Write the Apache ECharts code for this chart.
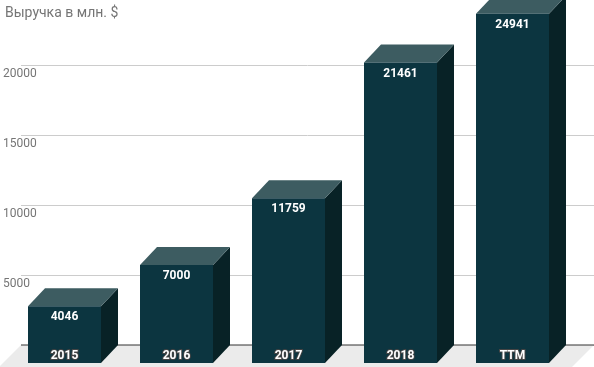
<!DOCTYPE html>
<html>
<head>
<meta charset="utf-8">
<script src="https://cdn.jsdelivr.net/npm/echarts@6/dist/echarts.min.js"></script>
<style>html,body{margin:0;padding:0;background:#fff;}#c{width:594px;height:367px;}</style>
</head>
<body>
<div id="c"></div>
<script>
var titleText = 'Выручка в млн. $';
var categories = ['2015', '2016', '2017', '2018', 'TTM'];
var revenue = [4046, 7000, 11759, 21461, 24941];
var yTicks = [0, 5000, 10000, 15000, 20000];
var yMax = 24000;

var FONT = 'Roboto, "Noto Sans", sans-serif';
var DX = 17, DY = 18, BAR_W = 73;
var C_FRONT = '#0c3540', C_TOP = '#3d5c61', C_SIDE = '#082226';

var chart = echarts.init(document.getElementById('c'), null, {renderer: 'canvas'});

function renderFloor(params, api) {
  var cs = params.coordSys;
  var y0 = api.coord([0, 0])[1];
  var x0 = cs.x, x1 = cs.x + cs.width;
  var ext = 22;
  return {
    type: 'group',
    children: [
      {type: 'polygon', shape: {points: [[x0, y0], [x1, y0], [x1 - ext, y0 + ext], [x0 - ext, y0 + ext]]},
       style: {fill: '#ebebeb'}},
      {type: 'line', shape: {x1: x0, y1: y0, x2: x1, y2: y0}, style: {stroke: '#333', lineWidth: 1}}
    ]
  };
}

function renderBar(params, api) {
  var i = api.value(0), v = api.value(1);
  var top = api.coord([i, v]);
  var base = api.coord([i, 0]);
  var bx0 = top[0] - BAR_W / 2, bx1 = top[0] + BAR_W / 2;
  var byT = top[1], byB = base[1];
  var fx0 = bx0 - DX, fx1 = bx1 - DX, fyT = byT + DY, fyB = byB + DY;
  return {
    type: 'group',
    children: [
      {type: 'polygon', shape: {points: [[fx1, fyT], [bx1, byT], [bx1, byB], [fx1, fyB]]}, style: {fill: C_SIDE}},
      {type: 'polygon', shape: {points: [[fx0, fyT], [bx0, byT], [bx1, byT], [fx1, fyT]]}, style: {fill: C_TOP}},
      {type: 'rect', shape: {x: fx0, y: fyT, width: BAR_W, height: fyB - fyT}, style: {fill: C_FRONT}},
      {type: 'text', x: (fx0 + fx1) / 2, y: fyT + 11,
       style: {text: String(revenue[i]), fill: '#fff', fontSize: 12, fontWeight: 'bold', fontFamily: FONT, align: 'center', verticalAlign: 'middle'}},
      {type: 'text', x: (fx0 + fx1) / 2, y: fyB - 7,
       style: {text: categories[i], fill: '#fff', stroke: '#444', lineWidth: 2, fontSize: 12, fontWeight: 'bold', fontFamily: FONT, align: 'center', verticalAlign: 'middle'}}
    ]
  };
}

var option = {
  animation: false,
  title: {text: titleText, left: 0, top: 1,
    textStyle: {color: '#757575', fontSize: 14, fontWeight: 'normal', fontFamily: FONT}},
  grid: [
    {left: 20, right: 0, top: 9, bottom: 22},
    {left: 25.5, right: 8.5, top: 9, bottom: 22}
  ],
  xAxis: [
    {type: 'category', gridIndex: 0, data: categories, show: false},
    {type: 'category', gridIndex: 1, data: categories, show: false}
  ],
  yAxis: [
    {type: 'value', gridIndex: 0, min: yTicks[0], max: yMax, interval: yTicks[1] - yTicks[0],
     axisLine: {show: false}, axisTick: {show: false},
     splitLine: {showMaxLine: false, lineStyle: {color: '#cccccc', width: 1}},
     axisLabel: {showMinLabel: false, showMaxLabel: false, align: 'left', verticalAlign: 'top', margin: 18, padding: [3, 0, 0, 0],
       color: '#757575', fontSize: 12, fontFamily: FONT,
       formatter: function (v) { return yTicks.indexOf(v) >= 0 ? String(v) : ''; }}},
    {type: 'value', gridIndex: 1, min: yTicks[0], max: yMax, interval: yTicks[1] - yTicks[0], show: false,
     splitLine: {show: false}}
  ],
  series: [
    {type: 'custom', xAxisIndex: 0, yAxisIndex: 0, z: 1, renderItem: renderFloor, data: [[0, 0]], silent: true},
    {type: 'custom', xAxisIndex: 1, yAxisIndex: 1, z: 2, renderItem: renderBar,
     data: revenue.map(function (v, i) { return [i, v]; })}
  ]
};
chart.setOption(option);
</script>
</body>
</html>
